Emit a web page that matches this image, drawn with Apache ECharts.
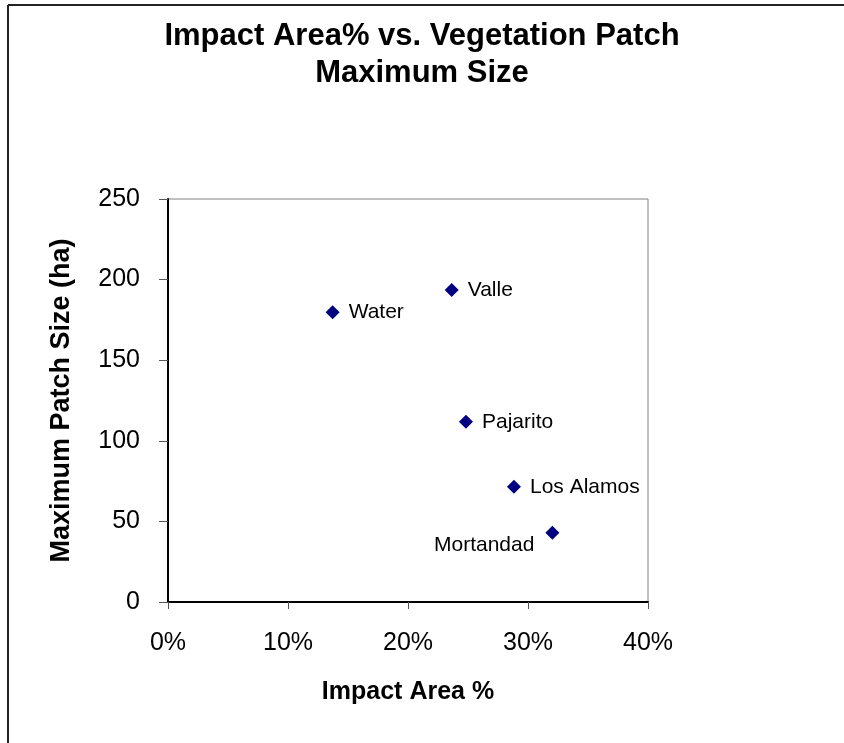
<!DOCTYPE html>
<html>
<head>
<meta charset="utf-8">
<script src="https://cdn.jsdelivr.net/npm/echarts@6/dist/echarts.min.js"></script>
<style>html,body{margin:0;padding:0;background:#fff}#c{width:844px;height:743px}</style>
</head>
<body>
<div id="c"></div>
<script>
const sites = ['Water', 'Valle', 'Pajarito', 'Los Alamos', 'Mortandad'];
const impactArea = [0.1372, 0.2364, 0.2483, 0.2883, 0.3203];
const maxPatchSize = [179.7, 193.5, 111.8, 71.5, 43.0];
const xTicks = [0, 0.1, 0.2, 0.3, 0.4];
const yTicks = [0, 50, 100, 150, 200, 250];

const font = '"Liberation Sans", Arial, sans-serif';
const chart = echarts.init(document.getElementById('c'), null, {renderer: 'canvas'});
const data = sites.map((s, i) => {
  const d = {name: s, value: [impactArea[i], maxPatchSize[i]]};
  if (s === 'Mortandad') {
    d.label = {position: 'left', distance: 11, offset: [0, 13]};
  }
  return d;
});
chart.setOption({
  backgroundColor: '#fff',
  animation: false,
  graphic: [
    {type: 'line', shape: {x1: 8, y1: 5, x2: 844, y2: 5}, style: {stroke: '#222', lineWidth: 2}},
    {type: 'line', shape: {x1: 8, y1: 5, x2: 8, y2: 743}, style: {stroke: '#222', lineWidth: 2}},
    {type: 'text', x: 422, y: 36, style: {text: 'Impact Area% vs. Vegetation Patch', font: 'bold 31px ' + font, fill: '#000', textAlign: 'center', textVerticalAlign: 'middle'}},
    {type: 'text', x: 422, y: 73, style: {text: 'Maximum Size', font: 'bold 31px ' + font, fill: '#000', textAlign: 'center', textVerticalAlign: 'middle'}}
  ],
  grid: {left: 168, top: 199, width: 480, height: 403, show: true, borderColor: '#808080', borderWidth: 1, backgroundColor: '#fff'},
  xAxis: {
    type: 'value', min: xTicks[0], max: xTicks[xTicks.length - 1], interval: 0.1,
    name: 'Impact Area %', nameLocation: 'middle', nameGap: 78,
    nameTextStyle: {fontFamily: font, fontSize: 25, fontWeight: 'bold', color: '#000'},
    axisLine: {show: true, lineStyle: {color: '#000', width: 2}},
    axisTick: {show: true, length: 7, lineStyle: {color: '#555'}},
    splitLine: {show: false},
    axisLabel: {fontFamily: font, fontSize: 25, color: '#000', margin: 29,
      formatter: v => Math.round(v * 100) + '%'}
  },
  yAxis: {
    type: 'value', min: yTicks[0], max: yTicks[yTicks.length - 1], interval: 50,
    name: 'Maximum Patch Size (ha)', nameLocation: 'middle', nameGap: 93,
    nameTextStyle: {fontFamily: font, fontSize: 27, fontWeight: 'bold', color: '#000'},
    axisLine: {show: true, lineStyle: {color: '#000', width: 2}},
    axisTick: {show: true, length: 9, lineStyle: {color: '#555'}},
    splitLine: {show: false},
    axisLabel: {fontFamily: font, fontSize: 25, color: '#000', margin: 28}
  },
  series: [{
    type: 'scatter',
    symbol: 'diamond',
    symbolSize: 14,
    itemStyle: {color: '#000080', opacity: 1},
    label: {show: true, position: 'right', distance: 9, formatter: '{b}',
      fontFamily: font, fontSize: 21, color: '#000'},
    data: data
  }]
});
</script>
</body>
</html>
